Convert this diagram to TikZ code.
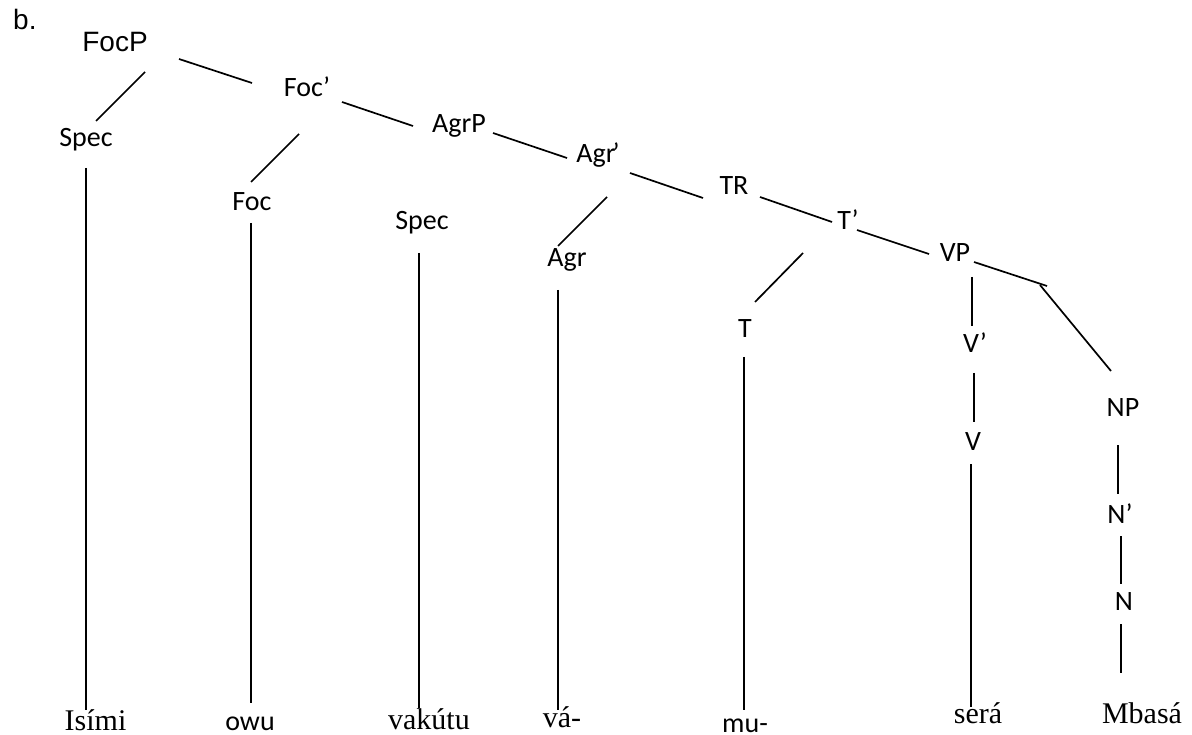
\documentclass[tikz,border=0pt]{standalone}
\usepackage{fontspec}
\setmainfont{Liberation Serif}
\newfontfamily\carlitofont{Carlito}
\newfontfamily\arialfont{Liberation Sans}
\begin{document}
\begin{tikzpicture}[x=1pt,y=-1pt,
  lab/.style={font=\carlitofont\fontsize{28}{30}\selectfont, inner sep=0pt, anchor=base},
  alab/.style={font=\arialfont\fontsize{28}{30}\selectfont, inner sep=0pt, anchor=base},
  word/.style={font=\fontsize{30}{32}\selectfont, inner sep=0pt, anchor=base},
  edge/.style={line width=1.7pt}]
\useasboundingbox[fill=white] (0,0) rectangle (1192,735);
% labels
\node[alab, anchor=base west] (b) at (13,30) {b.};
\node[alab] (FocP) at (115,52) {FocP};
\node[lab] (Spec1) at (86,147) {Spec};
\node[lab] (Focb) at (307,97) {Foc’};
\node[lab] (Foc) at (252,211) {Foc};
\node[lab] (AgrP) at (459,133) {AgrP};
\node[lab] (Spec2) at (422,230) {Spec};
\node[lab] (Agrb) at (598,163) {Agr\kern-3pt’};
\node[lab] (Agr) at (567,267) {Agr};
\node[lab] (TR) at (734,195) {TR};
\node[lab] (Tb) at (848,230) {T’};
\node[lab] (T) at (745,338) {T};
\node[lab] (VP) at (955,262) {VP};
\node[lab] (Vb) at (975,353) {V’};
\node[lab] (V) at (973,450) {V};
\node[lab] (NP) at (1123,417) {NP};
\node[lab] (Nb) at (1120,523) {N’};
\node[lab] (N) at (1124,610) {N};
% words
\node[word] (w1) at (95.5,730) {Isími};
\node[lab] (w2) at (250,730) {owu};
\node[word] (w3) at (429,729) {vakútu};
\node[word] (w4) at (562,727) {vá-};
\node[lab] (w5) at (745,732) {mu-};
\node[word] (w6) at (978,723) {será};
\node[word] (w7) at (1142,723) {Mbasá};
% line end points
\coordinate (a1) at (145,72);  \coordinate (a2) at (96,121);
\coordinate (b1) at (179,59);  \coordinate (b2) at (252,83);
\coordinate (c1) at (342,102); \coordinate (c2) at (413,126);
\coordinate (d1) at (299,134); \coordinate (d2) at (251,182);
\coordinate (e1) at (493,133); \coordinate (e2) at (567,158);
\coordinate (f1) at (630,173); \coordinate (f2) at (703,198);
\coordinate (g1) at (607,197); \coordinate (g2) at (558,246);
\coordinate (h1) at (760,197); \coordinate (h2) at (832,222);
\coordinate (i1) at (803,253); \coordinate (i2) at (755,302);
\coordinate (j1) at (857,230); \coordinate (j2) at (929,254);
\coordinate (k1) at (974,262); \coordinate (k2) at (1047,286);
\coordinate (k3) at (1040,285); \coordinate (k4) at (1111,371);
\coordinate (l1) at (972,277); \coordinate (l2) at (972,326);
\coordinate (m1) at (974,373); \coordinate (m2) at (974,422);
\coordinate (n1) at (1118,445); \coordinate (n2) at (1118,494);
\coordinate (o1) at (1121,536); \coordinate (o2) at (1121,584);
\coordinate (p1) at (1121,624); \coordinate (p2) at (1121,673);
\coordinate (q1) at (86,168);  \coordinate (q2) at (86,710);
\coordinate (r1) at (251,223); \coordinate (r2) at (251,703);
\coordinate (s1) at (419,253); \coordinate (s2) at (419,708);
\coordinate (t1) at (558,290); \coordinate (t2) at (558,710);
\coordinate (u1) at (744,357); \coordinate (u2) at (744,710);
\coordinate (v1) at (971,464); \coordinate (v2) at (971,707);
% connectors
\draw[edge] (a1) -- (a2);
\draw[edge] (b1) -- (b2);
\draw[edge] (c1) -- (c2);
\draw[edge] (d1) -- (d2);
\draw[edge] (e1) -- (e2);
\draw[edge] (f1) -- (f2);
\draw[edge] (g1) -- (g2);
\draw[edge] (h1) -- (h2);
\draw[edge] (i1) -- (i2);
\draw[edge] (j1) -- (j2);
\draw[edge] (k1) -- (k2);
\draw[edge] (k3) -- (k4);
\draw[edge] (l1) -- (l2);
\draw[edge] (m1) -- (m2);
\draw[edge] (n1) -- (n2);
\draw[edge] (o1) -- (o2);
\draw[edge] (p1) -- (p2);
\draw[edge] (q1) -- (q2);
\draw[edge] (r1) -- (r2);
\draw[edge] (s1) -- (s2);
\draw[edge] (t1) -- (t2);
\draw[edge] (u1) -- (u2);
\draw[edge] (v1) -- (v2);
\end{tikzpicture}
\end{document}
